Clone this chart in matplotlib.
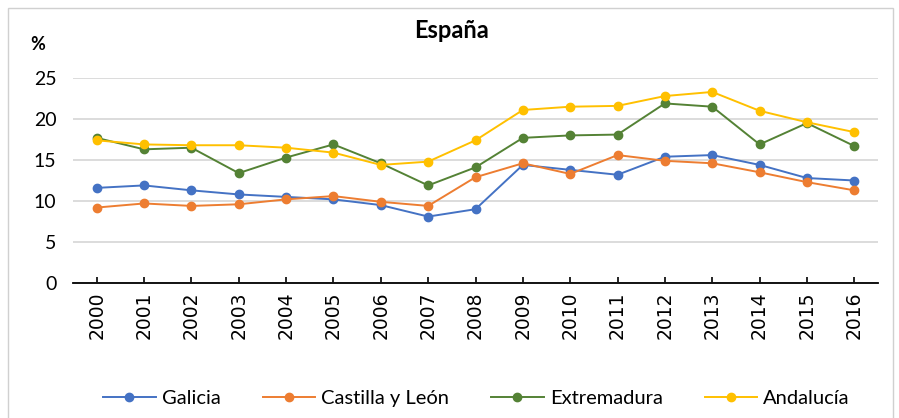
import matplotlib.pyplot as plt
from matplotlib.patches import Rectangle

years = [str(y) for y in range(2000, 2017)]
galicia = [11.6, 11.9, 11.3, 10.8, 10.5, 10.2, 9.5, 8.1, 9.0,
           14.4, 13.8, 13.2, 15.4, 15.6, 14.4, 12.8, 12.5]
castilla = [9.2, 9.7, 9.4, 9.6, 10.2, 10.6, 9.9, 9.4, 12.9,
            14.6, 13.3, 15.6, 14.9, 14.6, 13.5, 12.3, 11.3]
extremadura = [17.7, 16.3, 16.5, 13.4, 15.3, 16.9, 14.6, 11.9, 14.1,
               17.7, 18.0, 18.1, 21.9, 21.5, 16.9, 19.5, 16.7]
andalucia = [17.4, 16.9, 16.8, 16.8, 16.5, 15.9, 14.4, 14.8, 17.4,
             21.1, 21.5, 21.6, 22.8, 23.3, 21.0, 19.6, 18.4]

series = [('Galicia', galicia, '#4472C4'),
          ('Castilla y León', castilla, '#ED7D31'),
          ('Extremadura', extremadura, '#548235'),
          ('Andalucía', andalucia, '#FFC000')]

plt.rcParams['font.family'] = ['Lato', 'DejaVu Sans']

fig = plt.figure(figsize=(8.99, 4.18), dpi=100)
ax = fig.add_axes([73 / 899, 1 - 283 / 418, (878 - 73) / 899, (283 - 78) / 418])

x = range(len(years))
for name, vals, col in series:
    ax.plot(x, vals, color=col, lw=1.4, marker='o', ms=6, label=name)

ax.set_xlim(-0.5, len(years) - 0.5)
ax.set_ylim(0, 25)
ax.set_yticks([0, 5, 10, 15, 20, 25])
ax.set_xticks(list(x))
ax.set_xticklabels(years, rotation=90, fontsize=13.5, family='DejaVu Sans')
ax.tick_params(axis='x', direction='in', length=4, width=1.2, pad=6)
ax.tick_params(axis='y', length=0, labelsize=14, pad=12)
ax.yaxis.grid(True, color='#D9D9D9', lw=1.3)
ax.set_axisbelow(True)
for s in ['top', 'right', 'left']:
    ax.spines[s].set_visible(False)
ax.spines['bottom'].set_linewidth(1.3)

fig.text(452 / 899, 1 - 30 / 418, 'España', ha='center', va='center',
         fontsize=17, fontweight='bold')
fig.text(38 / 899, 1 - 45 / 418, '%', ha='center', va='center',
         fontsize=13, fontweight='bold')

fig.legend(loc='center', bbox_to_anchor=(0.53, 1 - 398 / 418), ncol=4,
           frameon=False, fontsize=14.5, handlelength=2.6, columnspacing=2.1,
           handletextpad=0.3)

fig.patches.append(Rectangle((8 / 899, -0.05), 885 / 899, 1.05 - 8 / 418,
                             transform=fig.transFigure, fill=False,
                             ec='#D0D0D0', lw=1.0))

fig.savefig('out.png')
